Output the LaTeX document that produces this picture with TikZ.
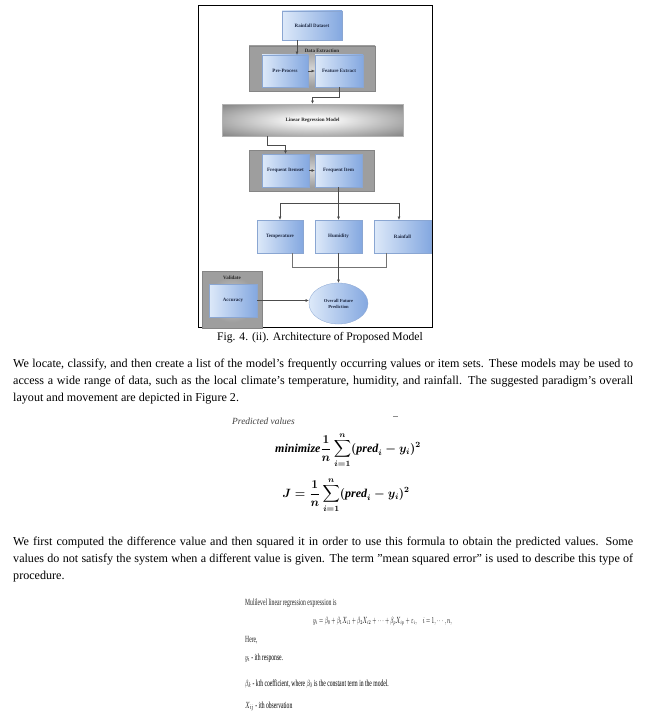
\documentclass[tikz,border=0pt]{standalone}
\usepackage{amsmath}
\usepackage{graphicx}
\usepackage{fontspec}
\setmainfont{Liberation Serif}
\usetikzlibrary{arrows.meta,calc,shapes.geometric}
\definecolor{blueL}{HTML}{DDE9F9}
\definecolor{blueD}{HTML}{84A8E0}
\definecolor{blueB}{HTML}{8AA6D2}
\definecolor{grayIn}{HTML}{D4D4D4}
\definecolor{grayOut}{HTML}{9E9E9E}
\definecolor{grayB}{HTML}{858585}
\definecolor{lrIn}{HTML}{F4F4F4}
\definecolor{lrOut}{HTML}{6A6A6A}
\definecolor{labc}{HTML}{1F2A44}
\pgfdeclareradialshading{lrshade}{\pgfpoint{0bp}{0bp}}{color(0bp)=(lrIn); color(6bp)=(lrIn); color(42bp)=(lrOut); color(50bp)=(lrOut)}
\pgfdeclareradialshading{contshade}{\pgfpoint{0bp}{0bp}}{color(0bp)=(grayIn); color(20bp)=(grayOut); color(50bp)=(grayOut)}
\tikzset{
  bluebox/.style={draw=blueB, line width=0.3pt, left color=blueL, right color=blueD,
    inner sep=0pt, font=\fontsize{5}{6}\selectfont\bfseries, text=labc},
  contbox/.style={draw=grayB, line width=0.4pt, shading=contshade, inner sep=0pt},
  lrbox/.style={draw=gray!60, line width=0.4pt, shading=lrshade, inner sep=0pt,
    font=\fontsize{5}{6}\selectfont\bfseries, text=black!85},
  contlab/.style={font=\fontsize{5}{6}\selectfont\bfseries, text=black!85, inner sep=0pt},
  arr/.style={-{Latex[length=3.2pt,width=2.8pt]}, draw=black!70, line width=0.5pt},
  ln/.style={draw=black!55, line width=0.5pt},
  para/.style={anchor=north west, inner sep=0pt, text width=620pt, align=justify,
    font=\fontsize{12.1}{17}\selectfont},
  small/.style={anchor=base west, inner sep=0pt, font=\fontsize{9.4}{10}\selectfont, text=black!85},
}
\newcommand{\sq}[1]{\scalebox{0.6}[1]{#1}}
\newsavebox{\fAbox}
\newsavebox{\fBbox}
\newsavebox{\fCbox}
\newsavebox{\lYbox}
\newsavebox{\lBbox}
\newsavebox{\lXbox}
\begin{document}
\sbox{\fAbox}{\fontsize{12}{14}\selectfont\boldmath$\displaystyle \mathit{minimize}\frac{1}{n}\sum_{i=1}^{n}(\mathit{pred}_i-y_i)^2$}%
\sbox{\fBbox}{\fontsize{12}{14}\selectfont\boldmath$\displaystyle J=\frac{1}{n}\sum_{i=1}^{n}(\mathit{pred}_i-y_i)^2$}%
\sbox{\fCbox}{\fontsize{8.6}{9}\selectfont\scalebox{0.58}[1]{$y_i=\beta_0+\beta_1X_{i1}+\beta_2X_{i2}+\cdots+\beta_pX_{ip}+\varepsilon_i,\quad i=1,\cdots,n,$}}%
\sbox{\lYbox}{\fontsize{9.4}{10}\selectfont\scalebox{0.6}[1]{$y_i$ - ith response.}}%
\sbox{\lBbox}{\fontsize{9.4}{10}\selectfont\scalebox{0.6}[1]{$\beta_k$ - kth coefficient, where $\beta_0$ is the constant term in the model.}}%
\sbox{\lXbox}{\fontsize{9.4}{10}\selectfont\scalebox{0.6}[1]{$X_{ij}$ - ith observation}}%
\begin{tikzpicture}[x=1pt,y=-1pt]
\fill[white] (0,0) rectangle (649,717);
\useasboundingbox (0,0) rectangle (649,717);
% frame
\draw[black, line width=0.9pt] (198,5) rectangle (432,327);
% containers
\node[contbox, minimum width=126pt, minimum height=45pt] (dx) at (312,68.5) {};
\node[contlab] (dxl) at (322,51) {Data Extraction};
\node[contbox, minimum width=125pt, minimum height=41pt] (fc) at (311.5,170.5) {};
\node[contbox, minimum width=60pt, minimum height=57pt] (vd) at (232,299.5) {};
\node[contlab] (vdl) at (232,278) {Validate};
% boxes
\node[bluebox, minimum width=60pt, minimum height=29pt] (ds) at (312,25.5) {Rainfall Dataset};
\node[bluebox, minimum width=46pt, minimum height=32pt] (pp) at (285,71) {Pre-Process};
\node[bluebox, minimum width=48pt, minimum height=32pt] (fe) at (339,71) {Feature Extract};
\node[lrbox, minimum width=181pt, minimum height=32pt] (lr) at (312.5,120) {Linear Regression Model};
\node[bluebox, minimum width=47pt, minimum height=33pt] (fi) at (285.5,170.5) {Frequent Itemset};
\node[bluebox, minimum width=47pt, minimum height=33pt] (fit) at (338.5,170.5) {Frequent Item};
\node[bluebox, minimum width=46pt, minimum height=33pt] (tp) at (280,236.5) {Temperature};
\node[bluebox, minimum width=47pt, minimum height=33pt] (hu) at (338.5,236.5) {Humidity};
\node[bluebox, minimum width=57pt, minimum height=33pt] (rf) at (402.5,236.5) {Rainfall};
\node[bluebox, minimum width=48pt, minimum height=33pt] (acc) at (233,300.5) {Accuracy};
\node[bluebox, ellipse, minimum width=59pt, minimum height=41pt, align=center,
  font=\fontsize{4.6}{6}\selectfont\bfseries] (ell) at (338.5,303.5) {Overall Future\\Prediction};
% connectors
\draw[arr] ([xshift=-15pt]ds.south) -- ([xshift=-15pt]ds.south |- pp.north);
\draw[arr] (pp.east) -- (fe.west);
\draw[arr] (fe.south) -- ++(0,10) -| (lr.north);
\draw[arr] ([xshift=-45.5pt]lr.south) -- ++(0,9) -| (fi.north);
\draw[arr] (fi.east) -- (fit.west);
\coordinate (br) at ($(fit.south)+(0,16)$);
\draw[arr] (fit.south) -- (hu.north);
\draw[arr] (br) -| (tp.north);
\draw[arr] (br) -| ([xshift=-3.5pt]rf.north);
\coordinate (jn) at ($(hu.south)+(0,14)$);
\draw[ln] ([xshift=12pt]tp.south) |- (jn);
\draw[ln] ([xshift=-16.5pt]rf.south) |- (jn);
\draw[arr] (hu.south) -- (ell.north);
\draw[arr] (acc.east) -- (acc.east -| ell.west);
% caption
\node[inner sep=0pt, font=\fontsize{11.6}{13}\selectfont] (cap) at (320,338) {Fig. 4. (ii). Architecture of Proposed Model};
% paragraph 1
\node[para] (p1) at (13,359) {We locate, classify, and then create a list of the model's frequently occurring values or item sets. These models may be used to access a wide range of data, such as the local climate's temperature, humidity, and rainfall. The suggested paradigm's overall layout and movement are depicted in Figure 2.};
% formulas
\node[anchor=west, inner sep=0pt, font=\fontsize{9.4}{10}\selectfont\itshape, text=black!75] (pv) at (232,421) {Predicted values};
\draw[black!45, line width=0.6pt] (393,416) -- (398,416);
\node[inner sep=0pt] (fa) at (348,450) {\usebox{\fAbox}};
\node[inner sep=0pt] (fb) at (346,495) {\usebox{\fBbox}};
% paragraph 2
\node[para] (p2) at (13,537) {We first computed the difference value and then squared it in order to use this formula to obtain the predicted values. Some values do not satisfy the system when a different value is given. The term \symbol{34}mean squared error\symbol{34} is used to describe this type of procedure.};
% lower block
\node[small] (ml) at (245,605) {\sq{Mulilevel linear regression expression is}};
\node[small] (eq) at (313,623) {\usebox{\fCbox}};
\node[small] (here) at (245,642) {\sq{Here,}};
\node[small] (yi) at (245,660) {\usebox{\lYbox}};
\node[small] (bk) at (245,686) {\usebox{\lBbox}};
\node[small] (xij) at (245,708) {\usebox{\lXbox}};
\end{tikzpicture}
\end{document}
